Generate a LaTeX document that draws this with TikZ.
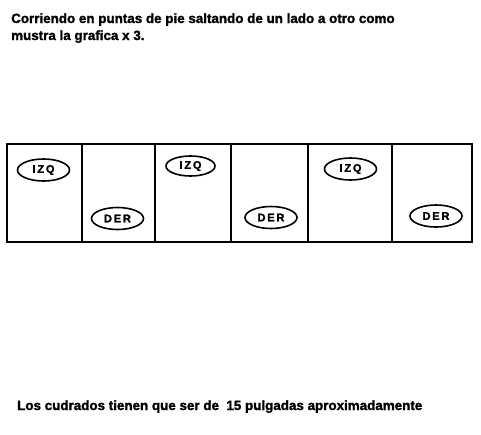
\documentclass[tikz,border=0pt]{standalone}
\usepackage{fontspec}
\setmainfont{Liberation Sans}[BoldFeatures={FakeBold=1.6}]
\usetikzlibrary{shapes.geometric}
\begin{document}
\begin{tikzpicture}[x=1pt,y=-1pt,
  every node/.style={font=\fontsize{13.4}{15}\selectfont\bfseries},
  txt/.style={anchor=base west, inner sep=0pt},
  foot/.style={ellipse, draw, line width=1.6pt, minimum width=52pt, minimum height=22pt, inner sep=0pt, font=\fontsize{11}{12}\selectfont\bfseries},
  cell/.style={draw, line width=1.8pt}]
\useasboundingbox (0,0) rectangle (481,434);
\node[txt] (t1) at (11,23) {Corriendo en puntas de pie saltando de un lado a otro como};
\node[txt] (t2) at (11,40) {mustra la grafica x 3.};
\draw[cell] (7,144) rectangle (472,242);
\coordinate (a1) at (82,144); \coordinate (a2) at (82,242);
\coordinate (b1) at (155,144); \coordinate (b2) at (155,242);
\coordinate (c1) at (231,144); \coordinate (c2) at (231,242);
\coordinate (d1) at (308,144); \coordinate (d2) at (308,242);
\coordinate (e1) at (392,144); \coordinate (e2) at (392,242);
\draw[cell] (a1) -- (a2);
\draw[cell] (b1) -- (b2);
\draw[cell] (c1) -- (c2);
\draw[cell] (d1) -- (d2);
\draw[cell] (e1) -- (e2);
\node[foot] (i1) at (43.5,170) {I\,Z\,Q};
\node[foot] (d1n) at (117.5,218.5) {D\,E\,R};
\node[foot, minimum width=49pt, minimum height=20pt] (i2) at (190.5,166) {I\,Z\,Q};
\node[foot] (d2n) at (271,217.5) {D\,E\,R};
\node[foot] (i3) at (350.5,169) {I\,Z\,Q};
\node[foot] (d3n) at (436,216) {D\,E\,R};
\node[txt] (t3) at (17,410) {Los cudrados tienen que ser de \ 15 pulgadas aproximadamente};
\end{tikzpicture}
\end{document}
